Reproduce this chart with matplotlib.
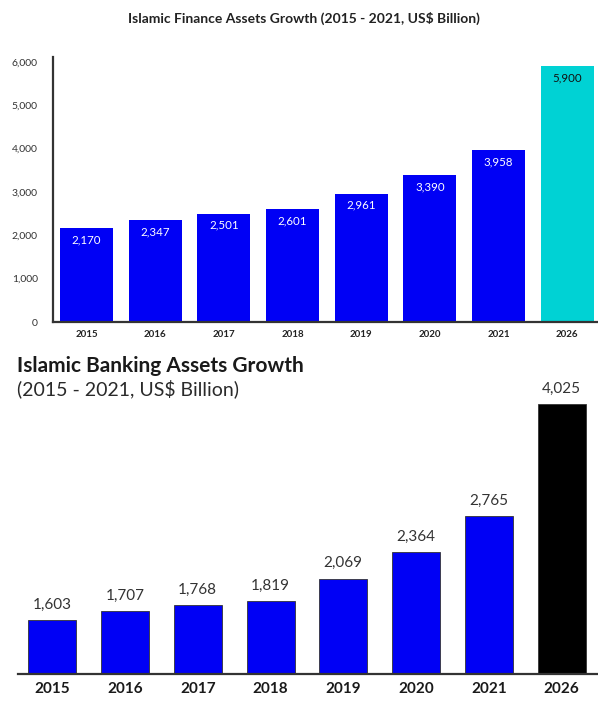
import matplotlib
matplotlib.use("Agg")
import matplotlib.pyplot as plt

plt.rcParams['font.family'] = ['Lato', 'DejaVu Sans']

# Islamic finance assets (US$ bn)
finance_years = ["2015", "2016", "2017", "2018", "2019", "2020", "2021", "2026"]
finance_values = [2170, 2347, 2501, 2601, 2961, 3390, 3958, 5900]
finance_colors = ["#0000f5"] * 7 + ["#00d2d4"]
finance_label_colors = ["white"] * 7 + ["#111111"]
finance_yticks = [0, 1000, 2000, 3000, 4000, 5000, 6000]

# Islamic banking assets (US$ bn)
banking_years = ["2015", "2016", "2017", "2018", "2019", "2020", "2021", "2026"]
banking_values = [1603, 1707, 1768, 1819, 2069, 2364, 2765, 4025]
banking_colors = ["#0000f5"] * 7 + ["#000000"]

W, H = 598, 701
fig = plt.figure(figsize=(W / 100, H / 100), dpi=100)


def px_axes(left, top, right, bottom):
    return fig.add_axes([left / W, 1 - bottom / H, (right - left) / W, (bottom - top) / H])


# ---- top chart ----
fig.text(304 / W, 1 - 18 / H, "Islamic Finance Assets Growth (2015 - 2021, US$ Billion)",
         ha="center", va="center", fontsize=10, fontweight="bold", color="#222222")

ax1 = px_axes(53, 57, 598, 322)
x1 = range(len(finance_years))
bars = ax1.bar(x1, finance_values, width=0.77, color=finance_colors)
for b, v, c in zip(bars, finance_values, finance_label_colors):
    ax1.text(b.get_x() + b.get_width() / 2, v - 140, f"{v:,}", ha="center", va="top",
             fontsize=8.3, color=c)
ax1.set_xlim(-0.49, 7.45)
ax1.set_ylim(0, 6115)
ax1.set_yticks(finance_yticks)
ax1.set_yticklabels([f"{t:,}" for t in finance_yticks], fontsize=7.5, color="#333333")
ax1.set_xticks(list(x1))
ax1.set_xticklabels(finance_years, fontsize=7, fontweight="bold", color="#222222")
ax1.tick_params(length=0, pad=6)
ax1.tick_params(axis="y", pad=11)
for s in ["top", "right"]:
    ax1.spines[s].set_visible(False)
for s in ["left", "bottom"]:
    ax1.spines[s].set_color("#333333")
    ax1.spines[s].set_linewidth(1.6)

# ---- bottom chart ----
fig.text(17 / W, 1 - 366 / H, "Islamic Banking Assets Growth",
         ha="left", va="center", fontsize=15, fontweight="bold", color="#1a1a1a")
fig.text(17 / W, 1 - 389 / H, "(2015 - 2021, US$ Billion)",
         ha="left", va="center", fontsize=14, color="#2a2a2a")

ax2 = px_axes(18, 380, 598, 674)
x2 = range(len(banking_years))
bars2 = ax2.bar(x2, banking_values, width=0.66, color=banking_colors,
                edgecolor="#333333", linewidth=0.6)
for b, v in zip(bars2, banking_values):
    ax2.text(b.get_x() + b.get_width() / 2, v + 95, f"{v:,}", ha="center", va="bottom",
             fontsize=11, color="#333333")
ax2.set_xlim(-0.47, 7.5)
ax2.set_ylim(1000, 4293)
ax2.set_yticks([])
ax2.set_xticks(list(x2))
ax2.set_xticklabels(banking_years, fontsize=11, fontweight="bold", color="#1a1a1a")
ax2.tick_params(length=0, pad=6)
for s in ["top", "right", "left"]:
    ax2.spines[s].set_visible(False)
ax2.spines["bottom"].set_color("#333333")
ax2.spines["bottom"].set_linewidth(1.6)

fig.savefig("out.png", dpi=100, facecolor="white")
